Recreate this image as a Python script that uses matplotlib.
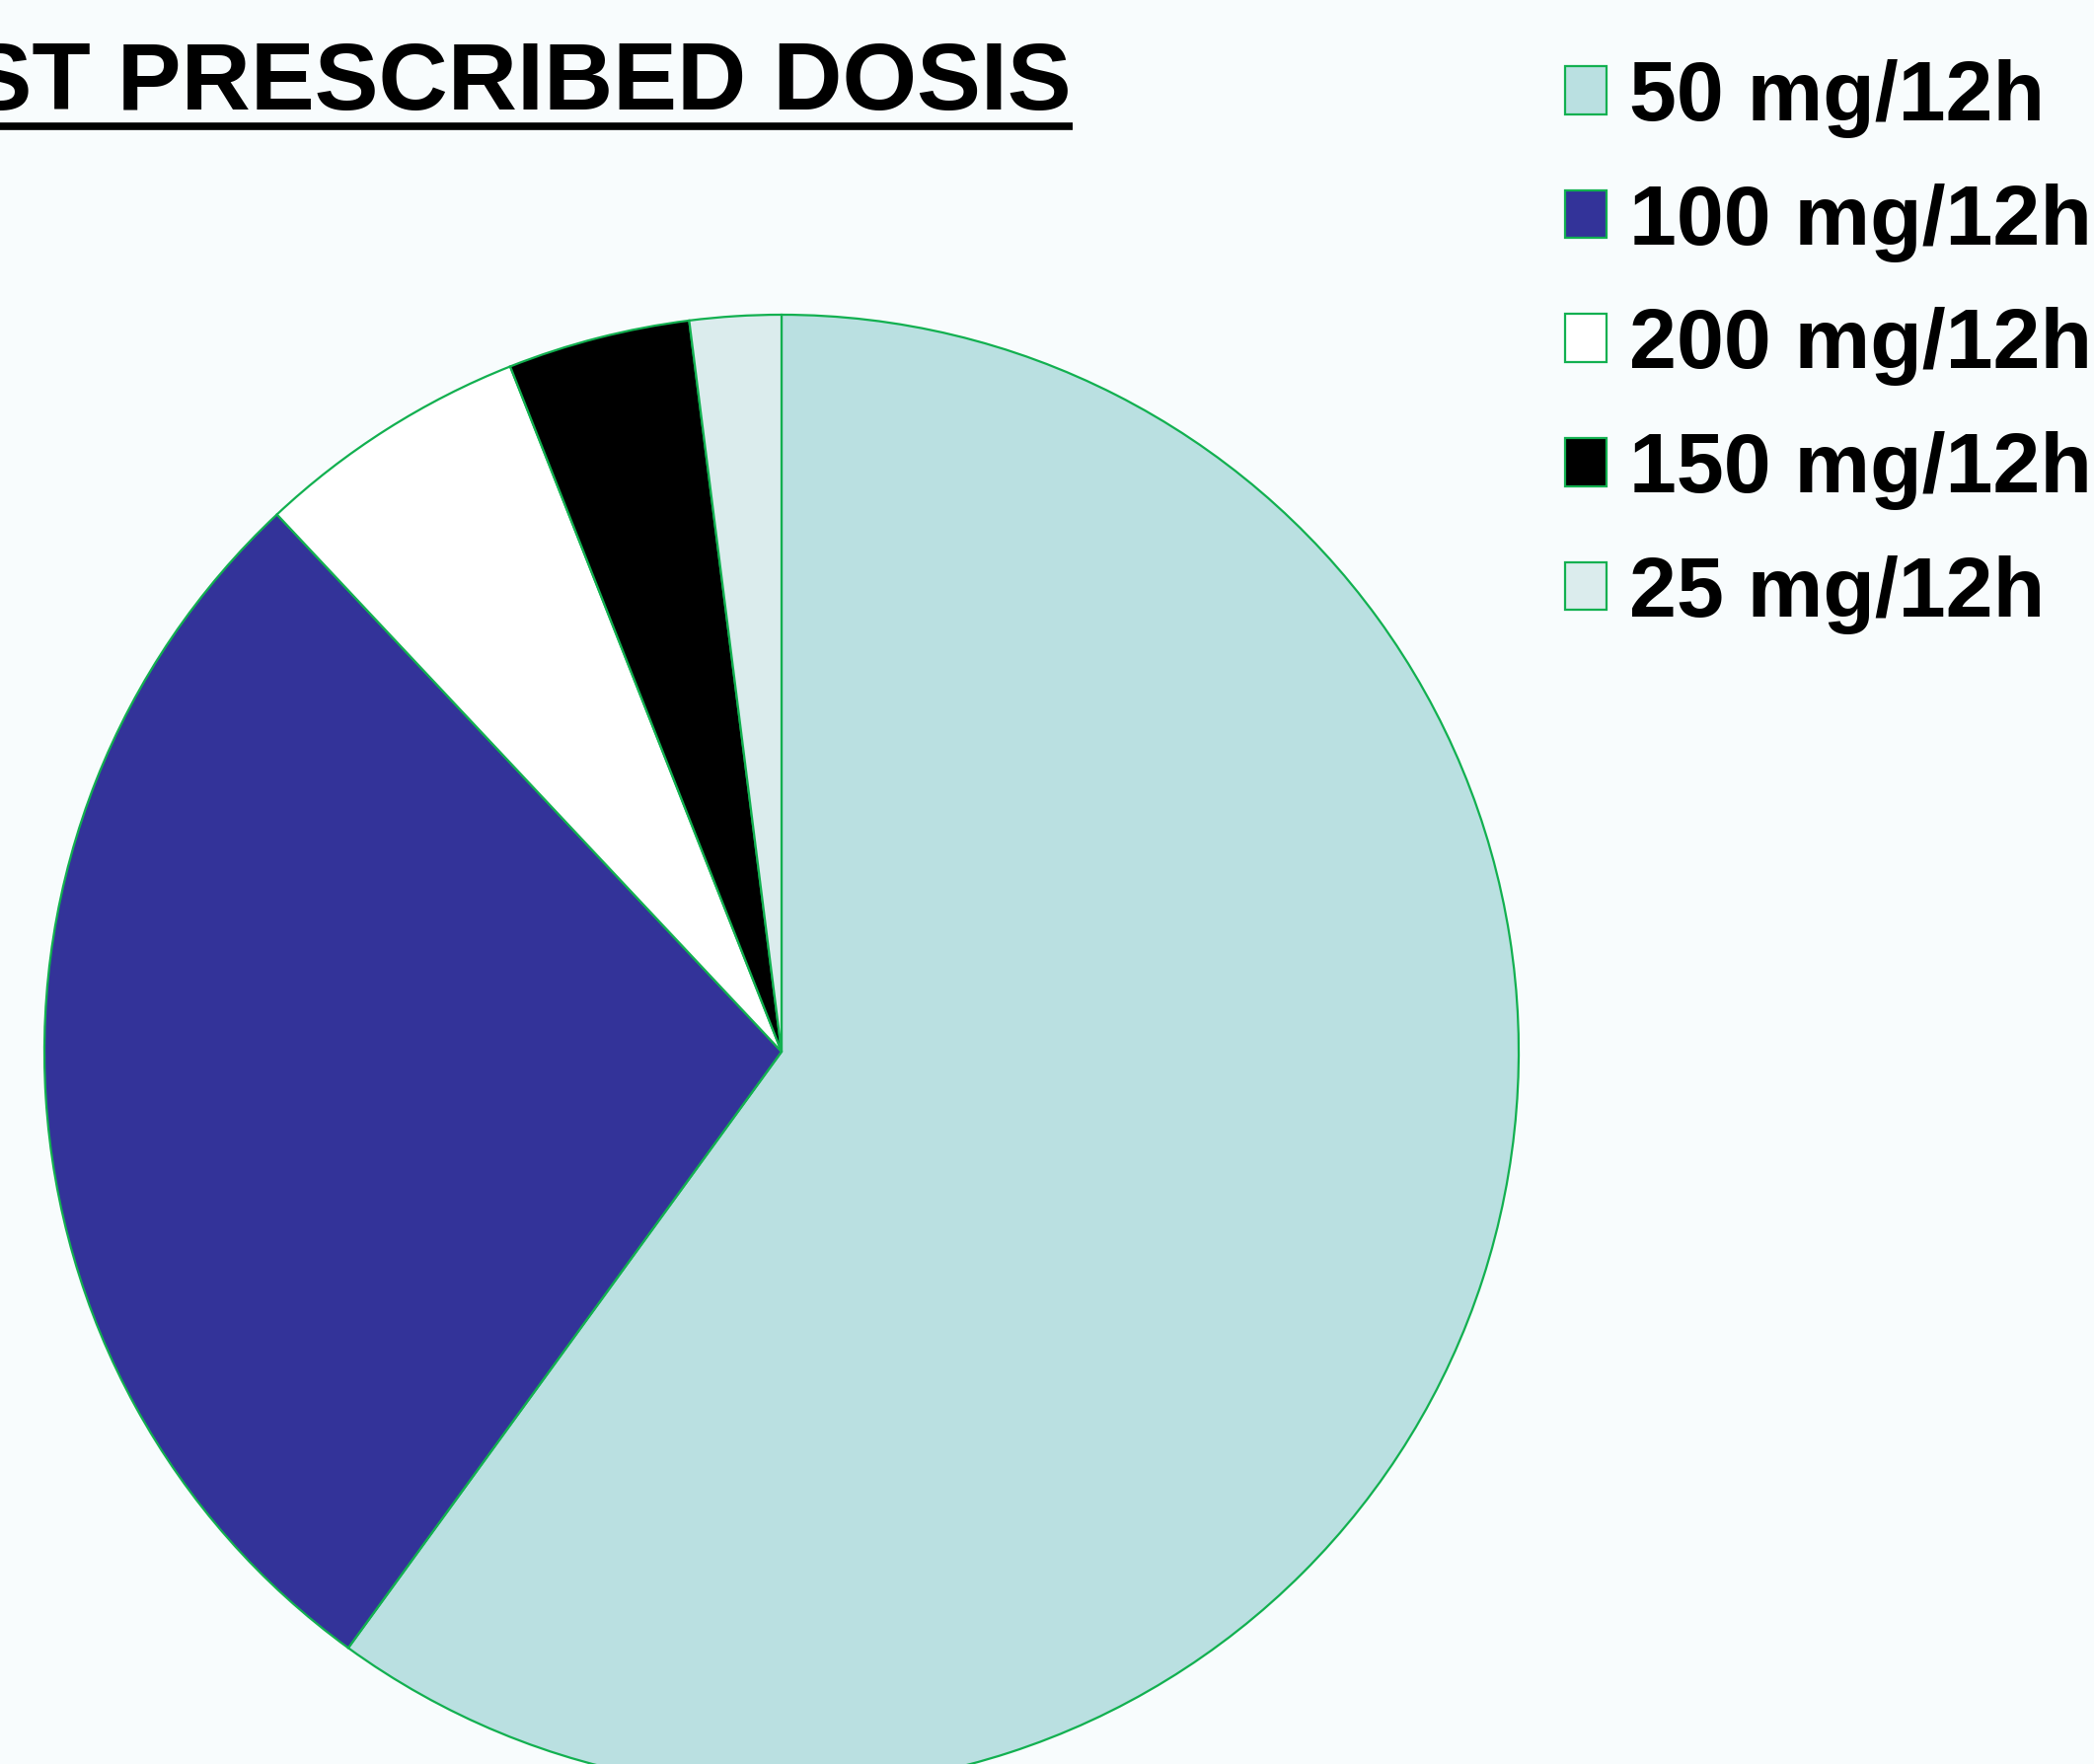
import matplotlib.pyplot as plt
from matplotlib.lines import Line2D

# data (share of patients, %)
doses = ['50 mg/12h', '100 mg/12h', '200 mg/12h', '150 mg/12h', '25 mg/12h']
shares = [60, 28, 6, 4, 2]
colors = ['#bae0e1', '#333399', '#ffffff', '#000000', '#dbeced']
title = 'MOST PRESCRIBED DOSIS'

W, H = 2122, 1788
DPI = 100
bg = '#f8fcfd'
edge = '#12b050'

fig = plt.figure(figsize=(W / DPI, H / DPI), dpi=DPI, facecolor=bg)

# pie: centre (792, 1066) px from top-left, radius 747 px
cx, cy, r = 792, 1066, 747
ax = fig.add_axes([(cx - r) / W, (H - cy - r) / H, 2 * r / W, 2 * r / H])
ax.set_facecolor('none')
wedges, _ = ax.pie(shares, colors=colors, startangle=90, counterclock=False,
                   wedgeprops=dict(edgecolor=edge, linewidth=1.6))
ax.set_xlim(-1, 1)
ax.set_ylim(-1, 1)
ax.set_aspect('equal')
ax.axis('off')

# title, cut at the left edge, underlined
fig.text(1086 / W, 1 - 111 / H, title, ha='right', va='baseline',
         fontsize=70, fontweight='bold',
         family=['Liberation Sans Narrow', 'Liberation Sans'])
fig.add_artist(Line2D([0, 1087 / W], [1 - 128 / H, 1 - 128 / H],
                      color='black', linewidth=5.5, solid_capstyle='butt'))

leg = fig.legend(wedges, doses, loc='upper left',
                 bbox_to_anchor=(1586 / W, 1 - 60 / H),
                 frameon=False, borderpad=0, borderaxespad=0,
                 handlelength=0.49, handleheight=0.49, handletextpad=0.26,
                 labelspacing=0.53,
                 prop=dict(family='Liberation Sans', weight='bold', size=62))

fig.savefig('out.png', dpi=DPI, facecolor=bg)
